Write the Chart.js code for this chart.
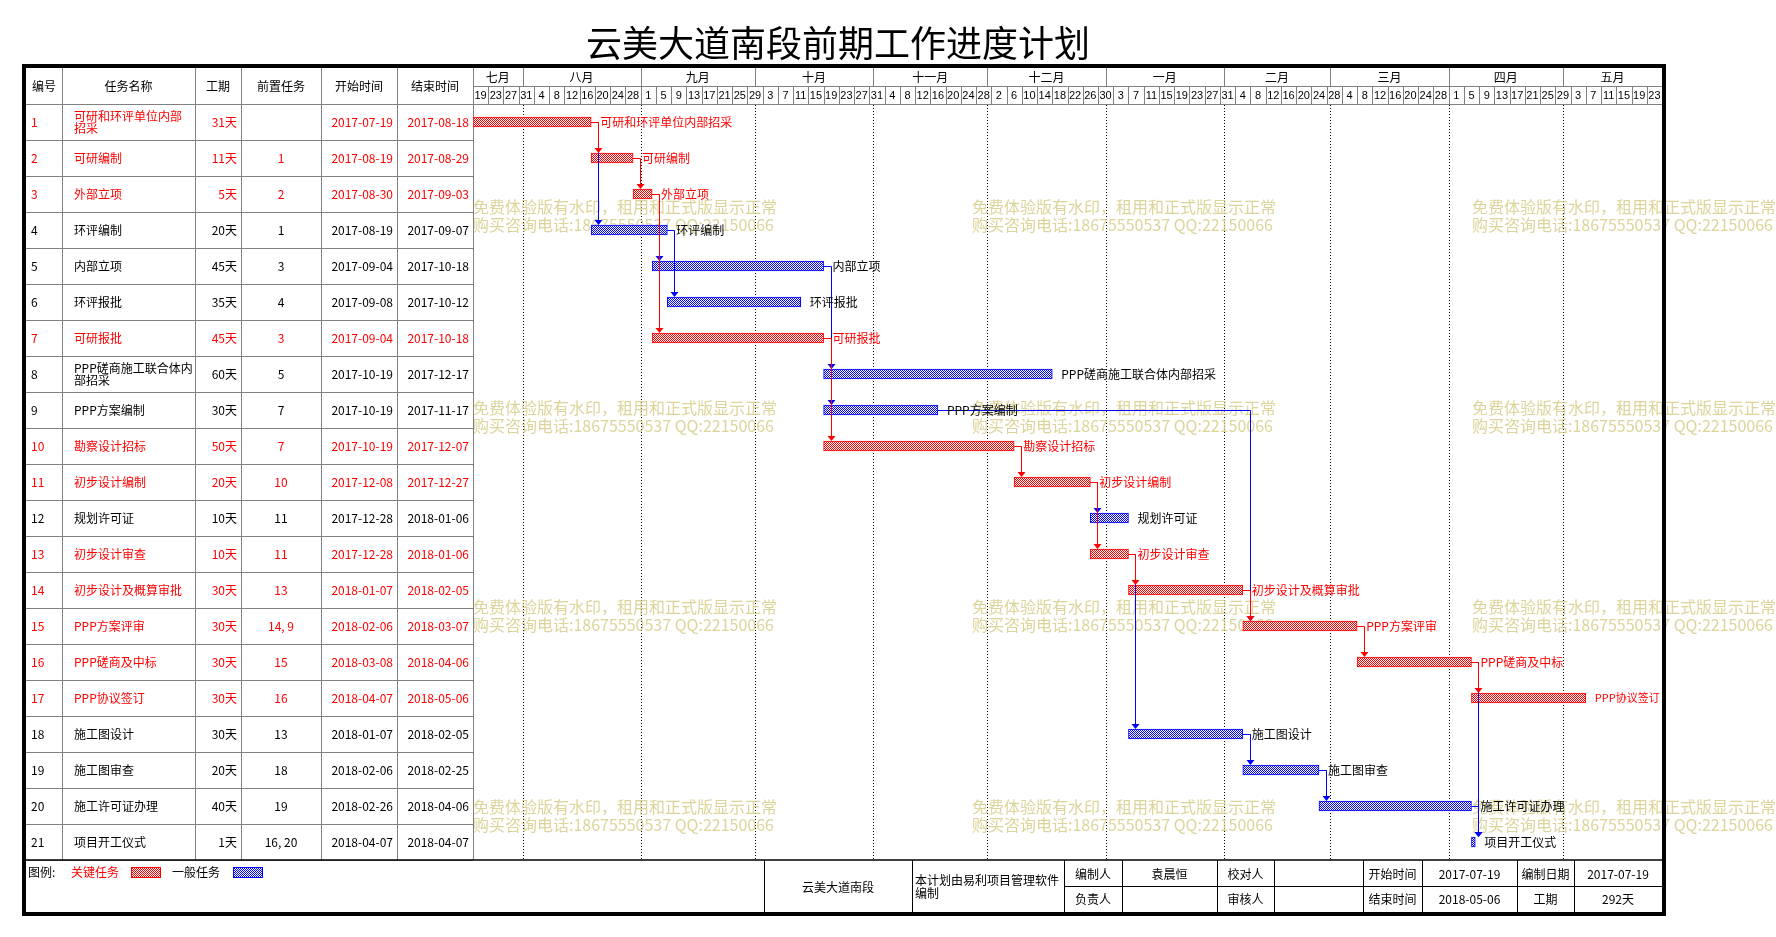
<!DOCTYPE html>
<html>
<head>
<meta charset="utf-8">
<title>云美大道南段前期工作进度计划</title>
<script src="https://cdn.jsdelivr.net/npm/chart.js@4.4.1/dist/chart.umd.min.js"></script>
<style>
    html, body { margin: 0; padding: 0; background: #fff; }
    #gantt { display: block; }
</style>
</head>
<body>
<canvas id="gantt" width="1776" height="937"></canvas>
<script>
const taskIds = [1, 2, 3, 4, 5, 6, 7, 8, 9, 10, 11, 12, 13, 14, 15, 16, 17, 18, 19, 20, 21];
const taskNames = [
    '可研和环评单位内部招采', '可研编制', '外部立项', '环评编制', '内部立项', '环评报批', '可研报批',
    'PPP磋商施工联合体内部招采', 'PPP方案编制', '勘察设计招标', '初步设计编制', '规划许可证', '初步设计审查',
    '初步设计及概算审批', 'PPP方案评审', 'PPP磋商及中标', 'PPP协议签订', '施工图设计', '施工图审查',
    '施工许可证办理', '项目开工仪式'
];
const durations = ['31天', '11天', '5天', '20天', '45天', '35天', '45天', '60天', '30天', '50天', '20天',
    '10天', '10天', '30天', '30天', '30天', '30天', '30天', '20天', '40天', '1天'];
const predecessors = [[], [1], [2], [1], [3], [4], [3], [5], [7], [7], [10], [11], [11], [13], [14, 9],
    [15], [16], [13], [18], [19], [16, 20]];
const startDates = ['2017-07-19', '2017-08-19', '2017-08-30', '2017-08-19', '2017-09-04', '2017-09-08',
    '2017-09-04', '2017-10-19', '2017-10-19', '2017-10-19', '2017-12-08', '2017-12-28', '2017-12-28',
    '2018-01-07', '2018-02-06', '2018-03-08', '2018-04-07', '2018-01-07', '2018-02-06', '2018-02-26',
    '2018-04-07'];
const endDates = ['2017-08-18', '2017-08-29', '2017-09-03', '2017-09-07', '2017-10-18', '2017-10-12',
    '2017-10-18', '2017-12-17', '2017-11-17', '2017-12-07', '2017-12-27', '2018-01-06', '2018-01-06',
    '2018-02-05', '2018-03-07', '2018-04-06', '2018-05-06', '2018-02-05', '2018-02-25', '2018-04-06',
    '2018-04-07'];
const criticalTasks = [1, 2, 3, 7, 10, 11, 13, 14, 15, 16, 17];

const monthLabels = ['七月', '八月', '九月', '十月', '十一月', '十二月', '一月', '二月', '三月', '四月', '五月'];
const monthStarts = ['2017-07-19', '2017-08-01', '2017-09-01', '2017-10-01', '2017-11-01', '2017-12-01',
    '2018-01-01', '2018-02-01', '2018-03-01', '2018-04-01', '2018-05-01'];
const dayTicks = [19, 23, 27, 31, 4, 8, 12, 16, 20, 24, 28, 1, 5, 9, 13, 17, 21, 25, 29, 3, 7, 11, 15, 19,
    23, 27, 31, 4, 8, 12, 16, 20, 24, 28, 2, 6, 10, 14, 18, 22, 26, 30, 3, 7, 11, 15, 19, 23, 27, 31, 4, 8,
    12, 16, 20, 24, 28, 4, 8, 12, 16, 20, 24, 28, 1, 5, 9, 13, 17, 21, 25, 29, 3, 7, 11, 15, 19, 23];
const timelineDays = 312;

const footerInfo = {
    project: '云美大道南段',
    note: ['本计划由易利项目管理软件', '编制'],
    top: ['编制人', '袁晨恒', '校对人', '', '开始时间', '2017-07-19', '编制日期', '2017-07-19'],
    bottom: ['负责人', '', '审核人', '', '结束时间', '2018-05-06', '工期', '292天']
};
const watermarkLines = ['免费体验版有水印，租用和正式版显示正常', '购买咨询电话:18675550537 QQ:22150066'];

// ---- layout ----
const FONT = '"Noto Sans CJK SC", "Noto Sans", sans-serif';
const RED = '#ff0000';
const BLUE = '#0000ff';
const GREY = '#808080';
const FRAME = { left: 24, top: 66, right: 1664, bottom: 914 };
const tableCols = [26, 62, 195, 241, 321, 397, 473];
const footerCols = [764, 912, 1064, 1122, 1217, 1274, 1363, 1422, 1517, 1574, 1662];
const headerMid = 86;
const footerTop = 860;
const footerMid = 886;

const DAY0 = Date.UTC(2017, 6, 19);

function dayIndex(dateText) {
    const [y, m, d] = dateText.split('-').map(Number);
    return Math.round((Date.UTC(y, m - 1, d) - DAY0) / 86400000);
}

const isCritical = taskIds.map(id => criticalTasks.includes(id));
const barRanges = startDates.map((s, i) => [dayIndex(s), dayIndex(endDates[i]) + 1]);

const canvas = document.getElementById('gantt');
const ctx = canvas.getContext('2d');

function makePattern(color) {
    const tile = document.createElement('canvas');
    tile.width = 2;
    tile.height = 2;
    const g = tile.getContext('2d');
    g.fillStyle = '#ffffff';
    g.fillRect(0, 0, 2, 2);
    g.fillStyle = color;
    g.fillRect(0, 0, 1, 1);
    g.fillRect(1, 1, 1, 1);
    return ctx.createPattern(tile, 'repeat');
}

const redPattern = makePattern(RED);
const bluePattern = makePattern(BLUE);

function line(c, x1, y1, x2, y2) {
    c.beginPath();
    c.moveTo(x1, y1);
    c.lineTo(x2, y2);
    c.stroke();
}

function text(c, str, x, y, color, align, size) {
    c.font = `${size || 12}px ${FONT}`;
    c.fillStyle = color || '#000';
    c.textAlign = align || 'left';
    c.textBaseline = 'middle';
    c.fillText(str, x, y);
}

function wrapText(c, str, maxWidth) {
    c.font = `12px ${FONT}`;
    const lines = [];
    let current = '';
    for (const ch of str) {
        if (c.measureText(current + ch).width > maxWidth && current) {
            lines.push(current);
            current = ch;
        } else {
            current += ch;
        }
    }
    lines.push(current);
    return lines;
}

function drawWatermarks(c) {
    const xs = [473, 972, 1472];
    const ys = [207, 408, 607, 807];
    ys.forEach(y => xs.forEach(x => {
        text(c, watermarkLines[0], x, y, 'rgba(208, 198, 120, 0.75)', 'left', 16);
        text(c, watermarkLines[1], x, y + 18, 'rgba(208, 198, 120, 0.75)', 'left', 16);
    }));
}

const ganttFrame = {
    id: 'ganttFrame',
    beforeDraw(chart) {
        const c = chart.ctx;
        const xs = chart.scales.x;
        const ys = chart.scales.y;
        const area = chart.chartArea;
        c.save();
        c.fillStyle = '#fff';
        c.fillRect(0, 0, chart.width, chart.height);

        // title
        text(c, '云美大道南段前期工作进度计划', 838, 43, '#000', 'center', 36);

        // table grid
        c.strokeStyle = GREY;
        c.lineWidth = 1;
        for (let k = 0; k <= taskIds.length; k++) {
            const y = Math.round(area.top + k * 36) + 0.5;
            line(c, tableCols[0], y, tableCols[6], y);
        }
        line(c, tableCols[6], area.top + 0.5, area.right, area.top + 0.5);
        tableCols.slice(1).forEach(x => line(c, x + 0.5, FRAME.top, x + 0.5, footerTop));

        // table header
        const headers = ['编号', '任务名称', '工期', '前置任务', '开始时间', '结束时间'];
        headers.forEach((h, i) => text(c, h, (tableCols[i] + tableCols[i + 1]) / 2, 86, '#000', 'center'));

        // table rows
        taskIds.forEach((id, i) => {
            const yc = ys.getPixelForValue(i);
            const color = isCritical[i] ? RED : '#000';
            text(c, String(id), 31, yc, color);
            const nameLines = wrapText(c, taskNames[i], 119);
            if (nameLines.length === 1) {
                text(c, nameLines[0], 74, yc, color);
            } else {
                text(c, nameLines[0], 74, yc - 6, color);
                text(c, nameLines[1], 74, yc + 6, color);
            }
            text(c, durations[i], 237, yc, color, 'right');
            text(c, predecessors[i].join(', '), 281, yc, color, 'center');
            text(c, startDates[i], 393, yc, color, 'right');
            text(c, endDates[i], 469, yc, color, 'right');
        });

        // timeline header: months
        c.strokeStyle = GREY;
        line(c, area.left, headerMid + 0.5, area.right, headerMid + 0.5);
        const monthX = monthStarts.map(d => xs.getPixelForValue(dayIndex(d)));
        monthX.forEach((x, i) => {
            const next = i + 1 < monthX.length ? monthX[i + 1] : area.right;
            if (i > 0) line(c, Math.round(x) + 0.5, FRAME.top, Math.round(x) + 0.5, headerMid);
            text(c, monthLabels[i], (x + next) / 2, 77, '#000', 'center');
        });

        // timeline header: day cells
        dayTicks.forEach((d, k) => {
            const x0 = xs.getPixelForValue(k * 4);
            const x1 = xs.getPixelForValue(Math.min((k + 1) * 4, timelineDays));
            if (k > 0) line(c, Math.round(x0) + 0.5, headerMid, Math.round(x0) + 0.5, area.top);
            c.font = '11px "Liberation Sans", sans-serif';
            c.fillStyle = '#000';
            c.textAlign = 'center';
            c.textBaseline = 'middle';
            c.fillText(String(d), (x0 + x1) / 2, 96);
        });

        // dotted month lines in the body
        c.strokeStyle = '#000';
        c.setLineDash([1, 2]);
        monthX.slice(1).forEach(x => line(c, Math.round(x) + 0.5, area.top + 1, Math.round(x) + 0.5, footerTop));
        c.setLineDash([]);

        drawWatermarks(c);
        c.restore();
    },
    afterDatasetsDraw(chart) {
        const c = chart.ctx;
        const xs = chart.scales.x;
        const ys = chart.scales.y;
        const area = chart.chartArea;
        c.save();

        // dependency links: general ones first, critical ones on top
        [false, true].forEach(criticalPass => {
            predecessors.forEach((preds, i) => preds.forEach(p => {
                const j = p - 1;
                const critical = isCritical[i] && isCritical[j];
                if (critical !== criticalPass) return;
                const color = critical ? RED : BLUE;
                const x1 = xs.getPixelForValue(barRanges[j][1]);
                const y1 = Math.round(ys.getPixelForValue(j)) + 0.5;
                const xv = Math.round(xs.getPixelForValue(barRanges[i][0]) + 7) + 0.5;
                const y2 = ys.getPixelForValue(i) - 5;
                c.strokeStyle = color;
                c.fillStyle = color;
                c.lineWidth = 1;
                c.beginPath();
                c.moveTo(x1, y1);
                c.lineTo(xv, y1);
                c.lineTo(xv, y2 - 4);
                c.stroke();
                c.beginPath();
                c.moveTo(xv, y2);
                c.lineTo(xv - 4, y2 - 5);
                c.lineTo(xv + 4, y2 - 5);
                c.closePath();
                c.fill();
            }));
        });

        // task labels next to the bars (shrunk a little if they would cross the frame)
        taskNames.forEach((name, i) => {
            const x = xs.getPixelForValue(barRanges[i][1]) + 9;
            let size = 12;
            c.font = `${size}px ${FONT}`;
            while (size > 10 && x + c.measureText(name).width > area.right - 2) {
                size -= 0.5;
                c.font = `${size}px ${FONT}`;
            }
            text(c, name, x, ys.getPixelForValue(i), isCritical[i] ? RED : '#000', 'left', size);
        });
        c.restore();
    },
    afterDraw(chart) {
        const c = chart.ctx;
        c.save();

        // footer grid
        c.strokeStyle = '#000';
        c.lineWidth = 1.5;
        line(c, FRAME.left, footerTop, FRAME.right, footerTop);
        c.lineWidth = 1;
        footerCols.slice(0, -1).forEach(x => line(c, x + 0.5, footerTop, x + 0.5, FRAME.bottom));
        line(c, footerCols[2], footerMid + 0.5, FRAME.right, footerMid + 0.5);

        // legend
        text(c, '图例:', 28, 872);
        text(c, '关键任务', 71, 872, RED);
        c.fillStyle = redPattern;
        c.fillRect(131, 867, 29, 10);
        c.strokeStyle = RED;
        c.strokeRect(131.5, 867.5, 29, 10);
        text(c, '一般任务', 172, 872);
        c.fillStyle = bluePattern;
        c.fillRect(233, 867, 29, 10);
        c.strokeStyle = BLUE;
        c.strokeRect(233.5, 867.5, 29, 10);

        // footer texts
        text(c, footerInfo.project, (footerCols[0] + footerCols[1]) / 2, 887, '#000', 'center');
        text(c, footerInfo.note[0], footerCols[1] + 3, 880);
        text(c, footerInfo.note[1], footerCols[1] + 3, 893);
        for (let k = 0; k < 8; k++) {
            const cx = (footerCols[k + 2] + footerCols[k + 3]) / 2;
            text(c, footerInfo.top[k], cx, 874, '#000', 'center');
            text(c, footerInfo.bottom[k], cx, 899, '#000', 'center');
        }

        // thick outer frame
        c.strokeStyle = '#000';
        c.lineWidth = 4;
        c.strokeRect(FRAME.left, FRAME.top, FRAME.right - FRAME.left, FRAME.bottom - FRAME.top);
        c.restore();
    }
};

new Chart(ctx, {
    type: 'bar',
    data: {
        labels: taskIds.map(String),
        datasets: [{
            label: '进度',
            data: barRanges,
            backgroundColor: c => (isCritical[c.dataIndex] ? redPattern : bluePattern),
            borderColor: c => (isCritical[c.dataIndex] ? RED : BLUE),
            borderWidth: 1,
            borderSkipped: false,
            barThickness: 10
        }]
    },
    options: {
        indexAxis: 'y',
        responsive: false,
        animation: false,
        devicePixelRatio: 1,
        layout: {
            padding: { left: 473, right: 114, top: 104, bottom: 77 }
        },
        scales: {
            x: { type: 'linear', min: 0, max: timelineDays, display: false },
            y: { display: false }
        },
        plugins: {
            legend: { display: false },
            title: { display: false },
            tooltip: { enabled: false }
        }
    },
    plugins: [ganttFrame]
});
</script>
</body>
</html>
